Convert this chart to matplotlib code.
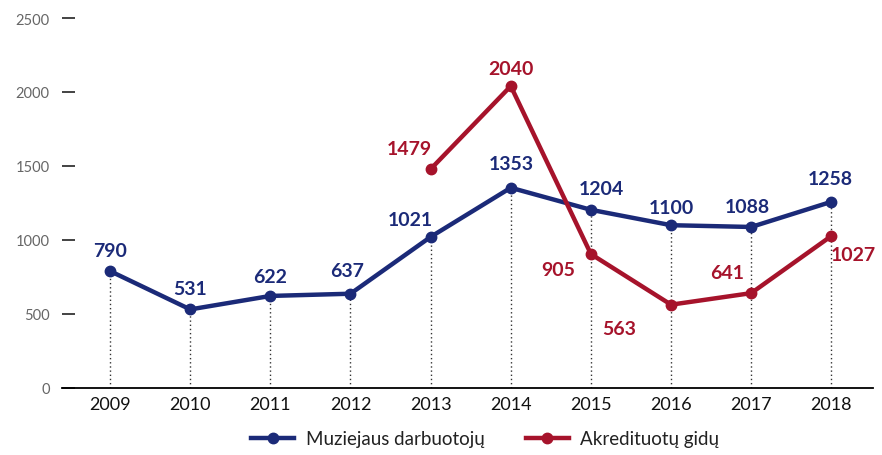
import matplotlib.pyplot as plt
from matplotlib.lines import Line2D

years = ['2009', '2010', '2011', '2012', '2013', '2014', '2015', '2016', '2017', '2018']
muziejaus = [790, 531, 622, 637, 1021, 1353, 1204, 1100, 1088, 1258]
gidu_years = [4, 5, 6, 7, 8, 9]
gidu = [1479, 2040, 905, 563, 641, 1027]

blue = '#1b2a78'
red = '#a6132b'

# label offsets in pixels (dx, dy)
blue_off = [(0, 21), (0, 21), (0, 19), (-3, 23), (-20, 17), (0, 24), (10, 21), (0, 18), (-4, 20), (-1, 23)]
red_off = [(-21, 21), (0, 18), (-33, -15), (-52, -24), (-24, 21), (22, -18)]

plt.rcParams['font.family'] = ['Lato', 'DejaVu Sans']
fig = plt.figure(figsize=(8.82, 4.56), dpi=100)
ax = fig.add_axes([62/882, 67/456, 811/882, 370/456])

x = list(range(len(years)))
ax.vlines(x, 0, muziejaus, colors='#333333', linestyles=(0, (1, 2)), linewidth=1, zorder=1)
ax.plot(x, muziejaus, color=blue, lw=3.2, marker='o', ms=7.5, zorder=3)
ax.plot(gidu_years, gidu, color=red, lw=3.2, marker='o', ms=7.5, zorder=4)

for i, v in enumerate(muziejaus):
    ax.annotate(str(v), (x[i], v), xytext=blue_off[i], textcoords='offset pixels',
                ha='center', va='center', color=blue, fontsize=14, fontweight='bold')
for i, v in enumerate(gidu):
    ax.annotate(str(v), (gidu_years[i], v), xytext=red_off[i], textcoords='offset pixels',
                ha='center', va='center', color=red, fontsize=14, fontweight='bold')

ax.set_xlim(-0.6, 9.52)
ax.set_ylim(0, 2500)
ax.set_xticks(x)
ax.set_xticklabels(years, fontsize=13, color='#111111')
ax.set_yticks([0, 500, 1000, 1500, 2000, 2500])
ax.tick_params(axis='x', length=0, pad=6)
ax.tick_params(axis='y', direction='in', length=9, width=1.2, color='#222222',
               labelsize=10.5, labelcolor='#666666', pad=9)
for s in ['top', 'right', 'left']:
    ax.spines[s].set_visible(False)
ax.spines['bottom'].set_linewidth(1.3)

handles = [Line2D([], [], color=blue, lw=3.2, marker='o', ms=7.5),
           Line2D([], [], color=red, lw=3.2, marker='o', ms=7.5)]
fig.legend(handles, ['Muziejaus darbuotojų', 'Akredituotų gidų'], loc='center',
           bbox_to_anchor=(485/882, 16/456), ncol=2, frameon=False, fontsize=13.5,
           handlelength=2.3, handletextpad=0.6, columnspacing=2.2, labelcolor='#222222')

fig.savefig('out.png', dpi=100)
